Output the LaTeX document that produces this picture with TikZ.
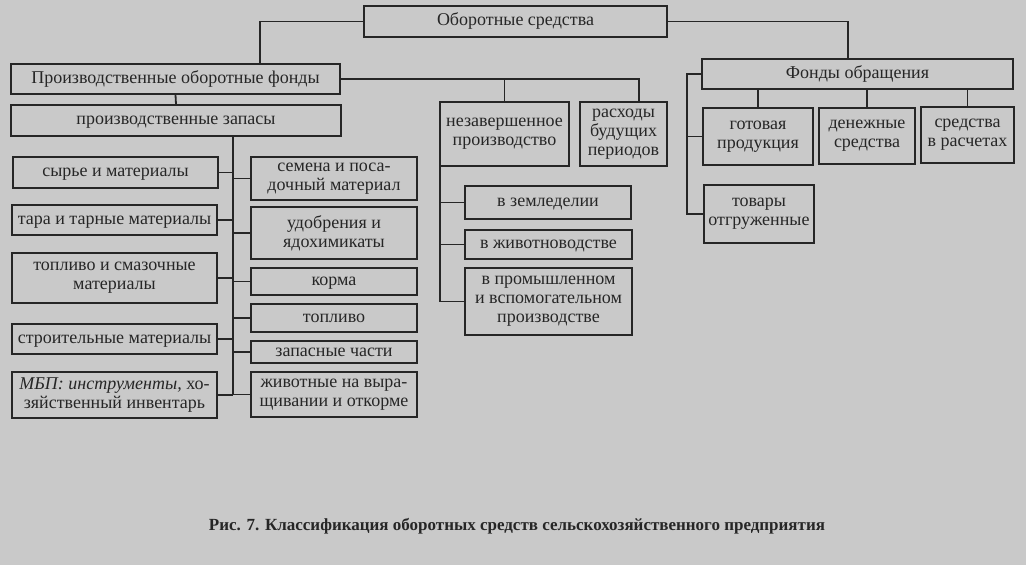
\documentclass[tikz,border=0pt]{standalone}
\usepackage{fontspec}
\setmainfont{Liberation Serif}
\begin{document}
\begin{tikzpicture}[
  x=1pt, y=-1pt,
  every node/.style = {font=\fontsize{18}{19}\selectfont, text=black!85},
  box/.style = {shape=rectangle, draw=black!85, line width=1.8pt,
    align=center, inner sep=1pt},
  one/.style = {text height=12pt, text depth=4pt},
  lbox/.style = {box, minimum width=205pt},
  rbox/.style = {box, minimum width=166pt},
  link/.style = {draw=black!85, line width=1.8pt}
  ]
  \fill[black!21] (0,0) rectangle (1026,565);
  % top
  \node[box, one, minimum width=303, minimum height=31] (os) at (515.5,21.5) {Оборотные средства};
  \node[box, one, minimum width=329, minimum height=30] (pof) at (175.5,79) {Производственные оборотные фонды};
  \node[box, one, minimum width=311, minimum height=30] (fo) at (857.5,74) {Фонды обращения};
  \node[box, one, minimum width=330, minimum height=31] (pz) at (176,120.5) {производственные запасы};
  % middle
  \node[box, minimum width=129, minimum height=64] (nzp) at (504.5,134) {незавершенное\\производство};
  \node[box, minimum width=87, minimum height=64] (rbp) at (623.5,134) {расходы\\будущих\\периодов};
  \node[box, one, minimum width=166, minimum height=33] (zem) at (548,202.5) {в земледелии};
  \node[box, one, minimum width=167, minimum height=29] (jiv) at (548.5,244.5) {в животноводстве};
  \node[box, minimum width=167, minimum height=67] (prom) at (548.5,301.5) {в промышленном\\и вспомогательном\\производстве};
  % right
  \node[box, minimum width=110, minimum height=57] (gp) at (758,136.5) {готовая\\продукция};
  \node[box, minimum width=96, minimum height=56] (ds) at (867,136) {денежные\\средства};
  \node[box, minimum width=93, minimum height=56] (sr) at (967.5,135) {средства\\в расчетах};
  \node[box, minimum width=110, minimum height=58] (to) at (759,214) {товары\\отгруженные};
  % left column
  \node[lbox, one, minimum height=31] (syr) at (115.5,172.5) {сырье и материалы};
  \node[lbox, one, minimum height=30] (tara) at (114.5,220) {тара и тарные материалы};
  \node[lbox, minimum height=50] (tsm) at (114.5,278) {топливо и смазочные\\материалы};
  \node[lbox, one, minimum height=30] (str) at (114.5,339) {строительные материалы};
  \node[lbox, minimum height=46] (mbp) at (114.5,395) {\textit{МБП: инструменты,} хо-\\зяйственный инвентарь};
  % right column
  \node[rbox, minimum height=43] (sem) at (334,178.5) {семена и поса-\\дочный материал};
  \node[rbox, minimum height=52] (udo) at (334,233) {удобрения и\\ядохимикаты};
  \node[rbox, one, minimum height=27] (korm) at (334,281.5) {корма};
  \node[rbox, one, minimum height=28] (topl) at (334,318) {топливо};
  \node[rbox, one, minimum height=22] (zch) at (334,352) {запасные части};
  \node[rbox, minimum height=45] (zhiv) at (334,394.5) {животные на выра-\\щивании и откорме};
  % caption
  \node[font=\fontsize{17}{19}\selectfont\bfseries] (cap) at (517,526)
    {Рис. 7. Классификация оборотных средств сельскохозяйственного предприятия};
  % connectors
  \draw[link] (os.west) -| ([xshift=84.5pt]pof.north);
  \draw[link] (os.east) -| ([xshift=-9.5pt]fo.north);
  \draw[link] (pof.east) -| ([xshift=15.5pt]rbp.north);
  \draw[link] (nzp.north) -- (nzp.north |- pof.east);
  \draw[link] (pof.south) -- (pz.north);
  \coordinate (trunk) at ([xshift=57pt]pz.south);
  \draw[link] (trunk) -- (trunk |- mbp.east);
  \foreach \n in {syr,tara,tsm,str,mbp}
    \draw[link] (\n.east) -- (trunk |- \n.east);
  \foreach \n in {sem,udo,korm,topl,zch,zhiv}
    \draw[link] (\n.west) -- (trunk |- \n.west);
  \coordinate (nzpl) at ([xshift=1pt]nzp.south west);
  \draw[link] (nzpl) |- (prom.west);
  \foreach \n in {zem,jiv}
    \draw[link] (\n.west) -- (nzpl |- \n.west);
  \coordinate (fol) at ([xshift=-14pt]fo.west);
  \draw[link] (fo.west) -- (fol) |- (to.west);
  \draw[link] (gp.west) -- (fol |- gp.west);
  \foreach \n in {gp,ds,sr}
    \draw[link] (\n.north) -- (\n.north |- fo.south);
\end{tikzpicture}
\end{document}
